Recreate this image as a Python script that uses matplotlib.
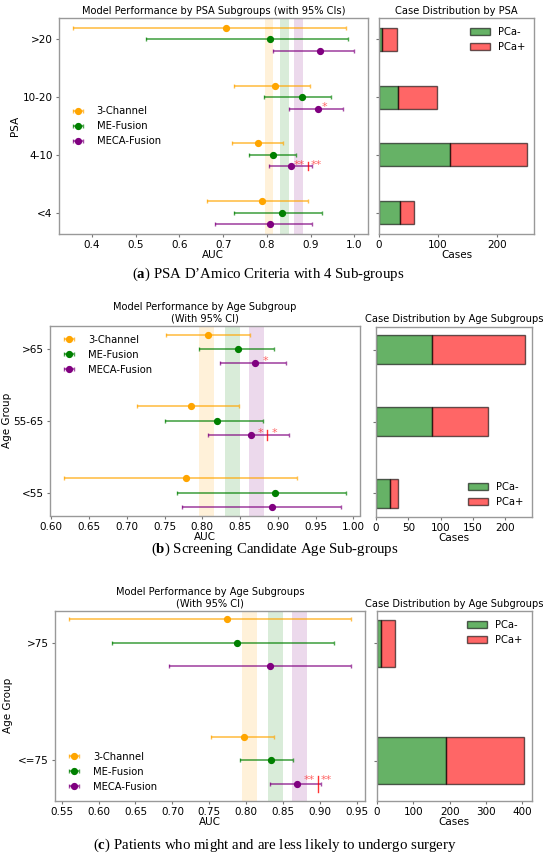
import matplotlib.pyplot as plt
from matplotlib.ticker import MultipleLocator, FormatStrFormatter
from matplotlib.colors import to_rgba
import numpy as np

plt.rcParams['mathtext.fontset'] = 'custom'
plt.rcParams['mathtext.rm'] = 'Liberation Serif'
plt.rcParams['mathtext.bf'] = 'Liberation Serif:bold'

models = ['3-Channel', 'ME-Fusion', 'MECA-Fusion']
model_colors = ['orange', 'green', 'purple']
band_lo = [0.795, 0.830, 0.862]
band_hi = [0.815, 0.850, 0.882]

# (a) PSA sub-groups
psa_groups = ['<4', '4-10', '10-20', '>20']
psa_3ch = [0.788, 0.780, 0.819, 0.707]
psa_3ch_lo = [0.664, 0.721, 0.725, 0.356]
psa_3ch_hi = [0.893, 0.836, 0.898, 0.981]
psa_me = [0.835, 0.815, 0.880, 0.808]
psa_me_lo = [0.724, 0.760, 0.793, 0.523]
psa_me_hi = [0.927, 0.866, 0.946, 0.986]
psa_meca = [0.807, 0.856, 0.916, 0.922]
psa_meca_lo = [0.682, 0.804, 0.851, 0.814]
psa_meca_hi = [0.902, 0.903, 0.974, 0.999]
psa_neg = [36, 120, 32, 5]
psa_pos = [24, 131, 66, 26]
psa_star_group = [1, 1, 2]
psa_star_x = [0.875, 0.913, 0.931]
psa_star_text = ['**', '**', '*']
psa_sig_group = [1]
psa_sig_x = [0.893]

# (b) screening age sub-groups
age_groups = ['<55', '55-65', '>65']
age_3ch = [0.778, 0.785, 0.807]
age_3ch_lo = [0.617, 0.714, 0.752]
age_3ch_hi = [0.925, 0.848, 0.863]
age_me = [0.896, 0.820, 0.847]
age_me_lo = [0.767, 0.750, 0.796]
age_me_hi = [0.990, 0.880, 0.895]
age_meca = [0.892, 0.865, 0.870]
age_meca_lo = [0.773, 0.808, 0.824]
age_meca_hi = [0.983, 0.915, 0.911]
age_neg = [22, 86, 87]
age_pos = [12, 87, 143]
age_star_group = [1, 1, 2]
age_star_x = [0.877, 0.895, 0.883]
age_star_text = ['*', '*', '*']
age_sig_group = [1]
age_sig_x = [0.886]

# (c) surgery age sub-groups
surg_groups = ['<=75', '>75']
surg_3ch = [0.797, 0.774]
surg_3ch_lo = [0.753, 0.560]
surg_3ch_hi = [0.838, 0.942]
surg_me = [0.834, 0.787]
surg_me_lo = [0.791, 0.618]
surg_me_hi = [0.864, 0.919]
surg_meca = [0.869, 0.833]
surg_meca_lo = [0.832, 0.696]
surg_meca_hi = [0.902, 0.942]
surg_neg = [190, 11]
surg_pos = [215, 38]
surg_star_group = [0, 0]
surg_star_x = [0.8855, 0.909]
surg_star_text = ['**', '**']
surg_sig_group = [0]
surg_sig_x = [0.897]

W, H = 550, 858
fig = plt.figure(figsize=(W / 100, H / 100), dpi=100)


def rect(left, top, right, bottom):
    return [left / W, 1 - bottom / H, (right - left) / W, (bottom - top) / H]


def style_axes(ax):
    for s in ax.spines.values():
        s.set_color('#999999')
        s.set_linewidth(1.0)
    ax.tick_params(labelsize=7.5, length=2.5, color='#777777', pad=2)


def draw_panel(box_f, box_b, groups, auc, lo, hi, neg, pos,
               star_group, star_x, star_text, sig_group, sig_x,
               title, bar_title, ylabel, ylabel_x, leg_loc, bar_leg_loc,
               xstep, xfmt, bstep):
    ax = fig.add_axes(rect(*box_f))
    axb = fig.add_axes(rect(*box_b), sharey=ax)
    y = np.arange(len(groups))
    offsets = [0.2, 0.0, -0.2]
    for i in range(3):
        a = np.array(auc[i])
        err = [a - np.array(lo[i]), np.array(hi[i]) - a]
        ax.errorbar(a, y + offsets[i], xerr=err, fmt='o', color=model_colors[i],
                    ecolor=to_rgba(model_colors[i], 0.7), elinewidth=1.2,
                    capsize=1.5, capthick=1, markersize=4.2, label=models[i])
        ax.axvspan(band_lo[i], band_hi[i], color=model_colors[i], alpha=0.15, lw=0)
    for g, x, t in zip(star_group, star_x, star_text):
        ax.text(x, g - 0.2 + 0.03, t, color='red', alpha=0.6, fontsize=8,
                ha='center', va='center')
    for g, x in zip(sig_group, sig_x):
        ax.plot([x, x], [g - 0.27, g - 0.13], color='red', lw=1, alpha=0.8)
    ax.set_yticks(y)
    ax.set_yticklabels(groups)
    ax.set_xlabel('AUC', fontsize=7.5, labelpad=0)
    ax.set_ylabel(ylabel, fontsize=7.5)
    ax.yaxis.set_label_coords(ylabel_x, 0.5)
    ax.set_title(title, fontsize=7.1, pad=3)
    ax.xaxis.set_major_locator(MultipleLocator(xstep))
    ax.xaxis.set_major_formatter(FormatStrFormatter(xfmt))
    ax.legend(loc=leg_loc, fontsize=7.2, frameon=False, handletextpad=0.9)
    style_axes(ax)

    axb.barh(y, neg, height=0.4, color='green', alpha=0.6, edgecolor='black', label='PCa-')
    axb.barh(y, pos, left=neg, height=0.4, color='red', alpha=0.6, edgecolor='black', label='PCa+')
    axb.set_title(bar_title, fontsize=7.1, pad=3)
    axb.set_xlabel('Cases', fontsize=7.5, labelpad=0)
    axb.xaxis.set_major_locator(MultipleLocator(bstep))
    axb.tick_params(labelleft=False)
    axb.legend(loc=bar_leg_loc, fontsize=7.2, frameon=False)
    style_axes(axb)


draw_panel((58.7, 18, 368, 234), (379, 18, 534, 234), psa_groups,
           [psa_3ch, psa_me, psa_meca], [psa_3ch_lo, psa_me_lo, psa_meca_lo],
           [psa_3ch_hi, psa_me_hi, psa_meca_hi], psa_neg, psa_pos,
           psa_star_group, psa_star_x, psa_star_text, psa_sig_group, psa_sig_x,
           'Model Performance by PSA Subgroups (with 95% CIs)',
           'Case Distribution by PSA', 'PSA', -0.125, 'center left', 'upper right',
           0.1, '%.1f', 100)

draw_panel((50, 326, 360, 515.5), (376, 326.5, 532.3, 516.5), age_groups,
           [age_3ch, age_me, age_meca], [age_3ch_lo, age_me_lo, age_meca_lo],
           [age_3ch_hi, age_me_hi, age_meca_hi], age_neg, age_pos,
           age_star_group, age_star_x, age_star_text, age_sig_group, age_sig_x,
           'Model Performance by Age Subgroup\n(With 95% CI)',
           'Case Distribution by Age Subgroups', 'Age Group', -0.123, 'upper left', 'lower right',
           0.05, '%.2f', 50)

draw_panel((55, 610.7, 365, 800.7), (376.7, 611, 531.7, 801), surg_groups,
           [surg_3ch, surg_me, surg_meca], [surg_3ch_lo, surg_me_lo, surg_meca_lo],
           [surg_3ch_hi, surg_me_hi, surg_meca_hi], surg_neg, surg_pos,
           surg_star_group, surg_star_x, surg_star_text, surg_sig_group, surg_sig_x,
           'Model Performance by Age Subgroups\n(With 95% CI)',
           'Case Distribution by Age Subgroups', 'Age Group', -0.135, 'lower left', 'upper right',
           0.05, '%.2f', 100)

cap_font = dict(family='Liberation Serif', fontsize=10.7, ha='center', va='center')
fig.text(268 / W, 1 - 274 / H, r'($\mathbf{a}$) PSA D’Amico Criteria with 4 Sub-groups', **cap_font)
fig.text(275 / W, 1 - 549 / H, r'($\mathbf{b}$) Screening Candidate Age Sub-groups', **cap_font)
fig.text(275 / W, 1 - 845 / H, r'($\mathbf{c}$) Patients who might and are less likely to undergo surgery', **cap_font)

fig.savefig('out.png', dpi=100)
